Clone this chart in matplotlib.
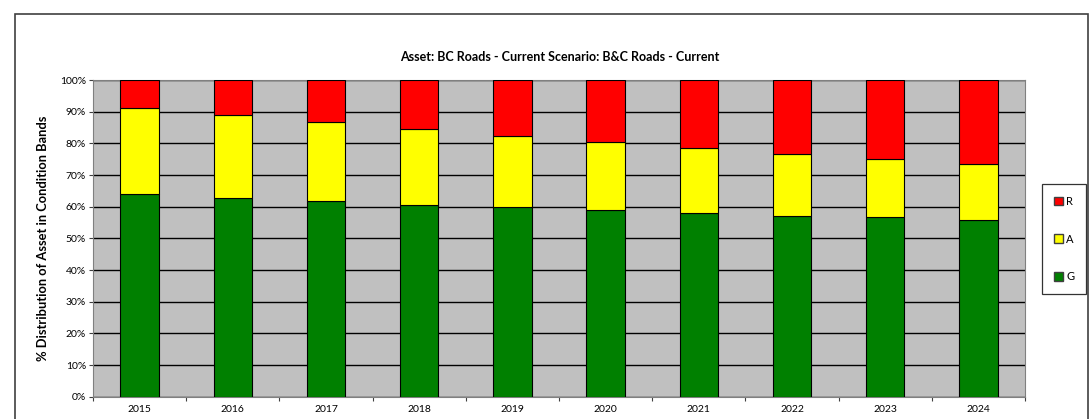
"""Stacked condition band distribution for BC Roads."""

import matplotlib
matplotlib.use("Agg")
import matplotlib.pyplot as plt
from matplotlib.patches import Patch, Rectangle
from matplotlib.ticker import FixedLocator, PercentFormatter
import numpy as np


years = ["2015", "2016", "2017", "2018", "2019", "2020", "2021", "2022", "2023", "2024"]
green = [64.0, 62.8, 61.7, 60.5, 59.8, 59.0, 58.1, 57.1, 56.6, 55.8]
amber = [27.2, 26.1, 25.0, 23.9, 22.5, 21.5, 20.5, 19.6, 18.5, 17.8]
red = [8.8, 11.1, 13.3, 15.6, 17.7, 19.5, 21.4, 23.3, 24.9, 26.4]

title = "Asset: BC Roads - Current Scenario: B&C Roads - Current"
ylabel = "% Distribution of Asset in Condition Bands"

plt.rcParams["font.family"] = ["Lato", "DejaVu Sans"]

fig = plt.figure(figsize=(10.9, 4.19), dpi=100)
fig.patch.set_facecolor("white")

# outer chart frame (Excel chart area), bottom runs off the image
frame = Rectangle((15 / 1090, -0.05), (1088 - 15) / 1090, 1 - 14 / 419 + 0.05,
                  transform=fig.transFigure, fill=False, edgecolor="#404040",
                  linewidth=1.2, zorder=0)
fig.patches.append(frame)

ax = fig.add_axes([93 / 1090, 22.3 / 419, 932 / 1090, 316.7 / 419])
ax.set_facecolor("#C0C0C0")

x = np.arange(len(years))
g = np.array(green)
a = np.array(amber)
r = np.array(red)
width = 0.41
kw = dict(width=width, edgecolor="black", linewidth=0.8, zorder=3)
ax.bar(x, g, color="#008000", **kw)
ax.bar(x, a, bottom=g, color="#FFFF00", **kw)
ax.bar(x, r, bottom=g + a, color="#FF0000", **kw)

ax.set_xlim(-0.5, len(years) - 0.5)
ax.set_ylim(0, 100)
ax.set_yticks(np.arange(0, 101, 10))
ax.yaxis.set_major_formatter(PercentFormatter(decimals=0))
ax.set_xticks(x)
ax.set_xticklabels(years)
ax.xaxis.set_minor_locator(FixedLocator(np.arange(-0.5, len(years), 1.0)))
ax.tick_params(axis="x", which="major", length=0, labelsize=7.5, pad=6)
ax.tick_params(axis="x", which="minor", length=3, width=0.8, color="#404040")
ax.tick_params(axis="y", length=3, width=0.8, color="#404040", labelsize=7.5, pad=2)

ax.yaxis.grid(True, color="black", linewidth=1.0)
ax.set_axisbelow(True)
for s in ax.spines.values():
    s.set_color("#808080")
    s.set_linewidth(0.8)

ax.set_ylabel(ylabel, fontsize=9.3, fontweight="bold", labelpad=8)
fig.text(560 / 1090, 1 - 57 / 419, title, ha="center", va="center",
         fontsize=9, fontweight="bold")

handles = [Patch(facecolor="#FF0000", edgecolor="#404040", label="R"),
           Patch(facecolor="#FFFF00", edgecolor="#404040", label="A"),
           Patch(facecolor="#008000", edgecolor="#404040", label="G")]
leg = fig.legend(handles=handles, loc="center", bbox_to_anchor=(1064 / 1090, 1 - 239 / 419),
                 fontsize=8, frameon=True, fancybox=False, handlelength=0.8,
                 handleheight=0.8, handletextpad=0.3, labelspacing=2.4,
                 borderpad=1.1, borderaxespad=0)
leg.get_frame().set_edgecolor("black")
leg.get_frame().set_linewidth(0.9)

fig.savefig("out.png", dpi=100)
